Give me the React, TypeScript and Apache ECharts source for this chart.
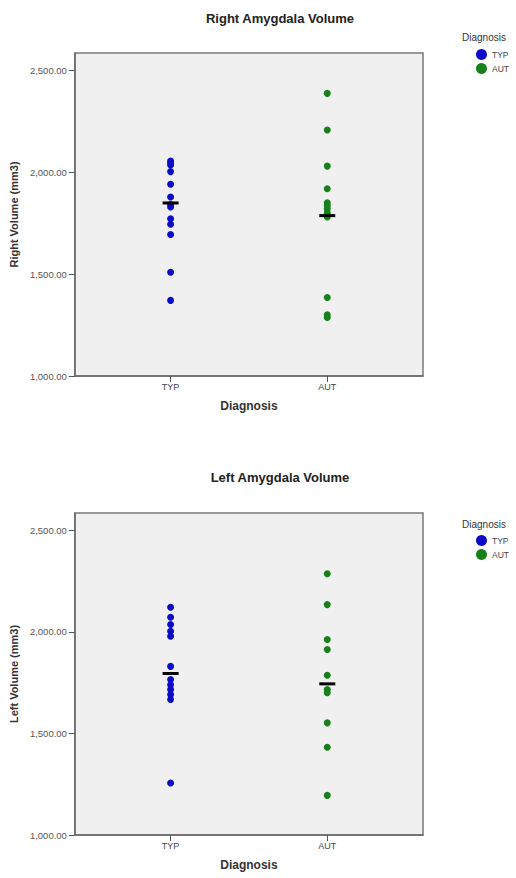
import React, { useEffect, useRef } from "react";
import * as echarts from "echarts";

const categories = ["TYP", "AUT"];
const yTicks = [1000, 1500, 2000, 2500];

const rightTYP = [2055, 2045, 2035, 2003, 1941, 1878, 1842, 1829, 1772, 1745, 1694, 1509, 1371];
const rightAUT = [2387, 2207, 2030, 1919, 1850, 1835, 1820, 1800, 1780, 1385, 1300, 1287];
const rightMean = [1849, 1787];

const leftTYP = [2121, 2072, 2036, 2003, 1978, 1830, 1765, 1740, 1716, 1691, 1667, 1256];
const leftAUT = [2286, 2134, 1962, 1913, 1786, 1716, 1700, 1552, 1432, 1195];
const leftMean = [1795, 1744];

const FONT = "'Liberation Sans', Arial, sans-serif";
const BLUE = "#0c0cc8";
const GREEN = "#17801a";

function buildOption() {
  const panels = [
    { top: 53, height: 323, yName: "Right Volume (mm3)", typ: rightTYP, aut: rightAUT, mean: rightMean },
    { top: 513, height: 322, yName: "Left Volume (mm3)", typ: leftTYP, aut: leftAUT, mean: leftMean },
  ];
  const grid: any[] = [];
  const xAxis: any[] = [];
  const yAxis: any[] = [];
  const series: any[] = [];
  panels.forEach((p, i) => {
    grid.push({
      left: 74,
      top: p.top,
      width: 349,
      height: p.height,
      show: true,
      backgroundColor: "#f0f0f0",
      borderColor: "#7a7a7a",
      borderWidth: 1.5,
    });
    xAxis.push({
      gridIndex: i,
      type: "value",
      min: -0.611,
      max: 1.611,
      splitLine: { show: false },
      axisLine: { show: true, onZero: false, lineStyle: { color: "#6a6a6a", width: 1.5 } },
      axisTick: { show: true, customValues: [0, 1], length: 6, lineStyle: { color: "#555" } },
      axisLabel: {
        customValues: [0, 1],
        formatter: (v: number) => categories[Math.round(v)],
        fontSize: 9,
        color: "#444",
        margin: 6,
        fontFamily: FONT,
      },
      name: "Diagnosis",
      nameLocation: "middle",
      nameGap: 24,
      nameTextStyle: { fontWeight: "bold", fontSize: 12, color: "#333", fontFamily: FONT },
    });
    yAxis.push({
      gridIndex: i,
      type: "value",
      min: 1000,
      max: 2585,
      interval: 500,
      splitLine: { show: false },
      axisLine: { show: true, onZero: false, lineStyle: { color: "#6a6a6a", width: 1.5 } },
      axisTick: { show: true, customValues: yTicks, length: 6, lineStyle: { color: "#555" } },
      axisLabel: {
        customValues: yTicks,
        formatter: (v: number) =>
          v.toLocaleString("en-US", { minimumFractionDigits: 2, maximumFractionDigits: 2 }),
        fontSize: 9.5,
        color: "#555",
        margin: 8,
        fontFamily: FONT,
      },
      name: p.yName,
      nameLocation: "middle",
      nameGap: 46,
      nameTextStyle: { fontWeight: "bold", fontSize: 11, color: "#333", fontFamily: FONT },
    });
    series.push({
      name: "TYP",
      type: "scatter",
      xAxisIndex: i,
      yAxisIndex: i,
      symbolSize: 7,
      itemStyle: { color: BLUE, opacity: 1 },
      data: p.typ.map((v) => [0, v]),
    });
    series.push({
      name: "AUT",
      type: "scatter",
      xAxisIndex: i,
      yAxisIndex: i,
      symbolSize: 7,
      itemStyle: { color: GREEN, opacity: 1 },
      data: p.aut.map((v) => [1, v]),
    });
    series.push({
      name: "Mean",
      type: "scatter",
      xAxisIndex: i,
      yAxisIndex: i,
      symbol: "rect",
      symbolSize: [16, 3],
      z: 5,
      itemStyle: { color: "#000", opacity: 1 },
      data: p.mean.map((v, k) => [k, v]),
    });
  });

  const legendBase = {
    data: ["TYP", "AUT"],
    orient: "vertical",
    left: 471,
    itemWidth: 11,
    itemHeight: 11,
    itemGap: 3,
    icon: "circle",
    selectedMode: false,
    textStyle: { fontSize: 8.5, color: "#444", fontFamily: FONT },
  };

  return {
    animation: false,
    grid,
    xAxis,
    yAxis,
    series,
    legend: [
      { ...legendBase, top: 44 },
      { ...legendBase, top: 530 },
    ],
    graphic: [
      {
        type: "text",
        x: 280,
        y: 18,
        style: { text: "Right Amygdala Volume", font: `bold 13px ${FONT}`, fill: "#222", textAlign: "center", textVerticalAlign: "middle" },
      },
      {
        type: "text",
        x: 280,
        y: 477,
        style: { text: "Left Amygdala Volume", font: `bold 13px ${FONT}`, fill: "#222", textAlign: "center", textVerticalAlign: "middle" },
      },
      {
        type: "text",
        x: 462,
        y: 37,
        style: { text: "Diagnosis", font: `10px ${FONT}`, fill: "#333", textAlign: "left", textVerticalAlign: "middle" },
      },
      {
        type: "text",
        x: 462,
        y: 524,
        style: { text: "Diagnosis", font: `10px ${FONT}`, fill: "#333", textAlign: "left", textVerticalAlign: "middle" },
      },
    ],
  };
}

export default function App() {
  const ref = useRef<HTMLDivElement>(null);
  useEffect(() => {
    const chart = echarts.init(ref.current!, null, { renderer: "svg" });
    chart.setOption(buildOption() as any);
    return () => chart.dispose();
  }, []);
  return (
    <div
      ref={ref}
      style={{ position: "absolute", left: 0, top: 0, width: 516, height: 878, background: "#fff" }}
    />
  );
}
